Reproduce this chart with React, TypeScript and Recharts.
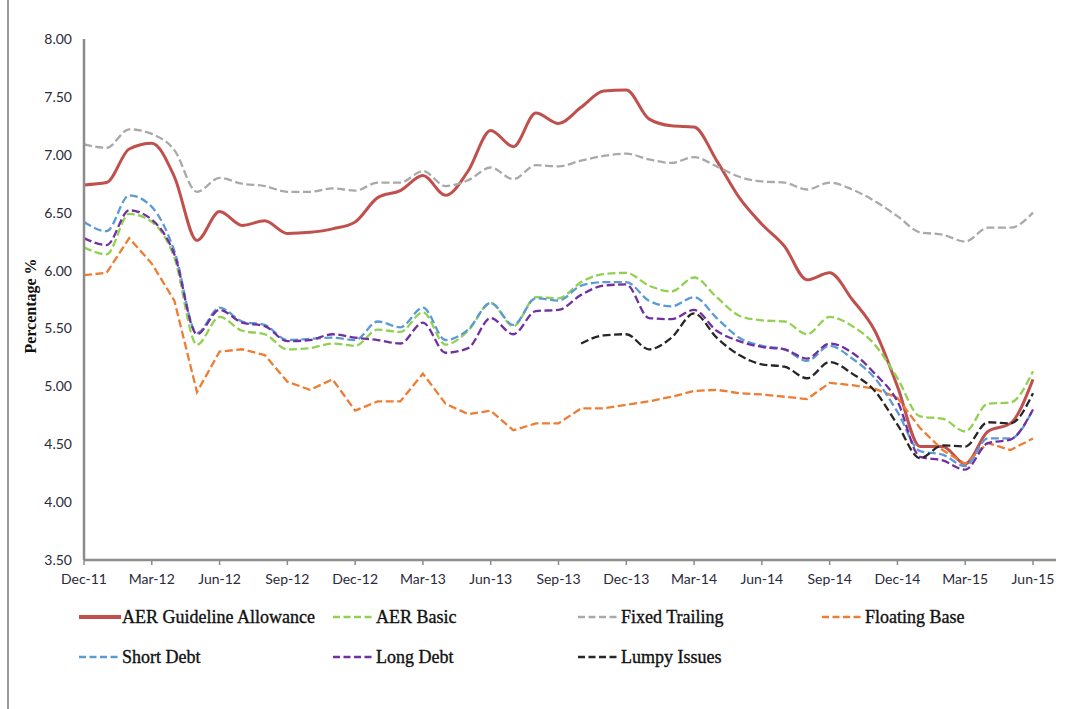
import React from 'react';
import { LineChart, Line, XAxis, YAxis } from 'recharts';

const months = ['Dec-11','Jan-12','Feb-12','Mar-12','Apr-12','May-12','Jun-12','Jul-12','Aug-12','Sep-12','Oct-12','Nov-12','Dec-12','Jan-13','Feb-13','Mar-13','Apr-13','May-13','Jun-13','Jul-13','Aug-13','Sep-13','Oct-13','Nov-13','Dec-13','Jan-14','Feb-14','Mar-14','Apr-14','May-14','Jun-14','Jul-14','Aug-14','Sep-14','Oct-14','Nov-14','Dec-14','Jan-15','Feb-15','Mar-15','Apr-15','May-15','Jun-15'];

const aerGuideline = [6.74,6.76,7.05,7.10,6.81,6.26,6.51,6.39,6.43,6.32,6.33,6.36,6.42,6.63,6.69,6.82,6.65,6.86,7.21,7.07,7.36,7.27,7.41,7.55,7.56,7.31,7.25,7.24,6.95,6.63,6.40,6.21,5.92,5.98,5.75,5.48,5.00,4.48,4.48,4.33,4.61,4.68,5.06];
const aerBasic = [6.20,6.14,6.49,6.42,6.11,5.36,5.60,5.48,5.45,5.32,5.33,5.37,5.35,5.49,5.47,5.64,5.36,5.48,5.72,5.52,5.77,5.76,5.90,5.97,5.98,5.87,5.82,5.94,5.77,5.61,5.57,5.56,5.45,5.60,5.52,5.36,5.07,4.74,4.72,4.61,4.85,4.86,5.13];
const fixedTrailing = [7.09,7.06,7.22,7.18,7.04,6.68,6.80,6.75,6.73,6.68,6.68,6.71,6.69,6.76,6.76,6.86,6.73,6.78,6.89,6.79,6.91,6.90,6.95,6.99,7.01,6.96,6.93,6.98,6.90,6.81,6.77,6.76,6.70,6.76,6.70,6.60,6.47,6.33,6.31,6.25,6.37,6.37,6.50];
const floatingBase = [5.96,5.98,6.28,6.06,5.74,4.95,5.30,5.32,5.27,5.04,4.97,5.06,4.79,4.87,4.87,5.11,4.85,4.76,4.79,4.62,4.68,4.68,4.81,4.81,4.84,4.87,4.91,4.96,4.97,4.94,4.93,4.91,4.89,5.03,5.01,4.98,4.90,4.64,4.45,4.33,4.51,4.45,4.55];
const shortDebt = [6.42,6.34,6.65,6.55,6.17,5.46,5.68,5.56,5.53,5.40,5.41,5.42,5.40,5.56,5.51,5.68,5.40,5.49,5.72,5.53,5.76,5.74,5.87,5.90,5.90,5.74,5.69,5.77,5.59,5.42,5.35,5.32,5.22,5.35,5.24,5.07,4.78,4.44,4.41,4.31,4.55,4.55,4.80];
const longDebt = [6.28,6.22,6.52,6.44,6.14,5.45,5.66,5.55,5.52,5.39,5.40,5.45,5.42,5.40,5.37,5.55,5.29,5.33,5.59,5.45,5.65,5.66,5.79,5.87,5.88,5.59,5.58,5.66,5.48,5.39,5.34,5.32,5.24,5.37,5.29,5.11,4.87,4.39,4.36,4.28,4.51,4.54,4.80];
const lumpyIssues = [null,null,null,null,null,null,null,null,null,null,null,null,null,null,null,null,null,null,null,null,null,null,5.37,5.44,5.45,5.32,5.42,5.63,5.42,5.27,5.19,5.17,5.07,5.21,5.11,4.96,4.67,4.38,4.49,4.48,4.69,4.68,4.94];

const yTicks = [3.5, 4.0, 4.5, 5.0, 5.5, 6.0, 6.5, 7.0, 7.5, 8.0];

const seriesNames = ['AER Guideline Allowance', 'AER Basic', 'Fixed Trailing', 'Floating Base', 'Short Debt', 'Long Debt', 'Lumpy Issues'];

const data = months.map((m, i) => ({
  month: m,
  aerGuideline: aerGuideline[i],
  aerBasic: aerBasic[i],
  fixedTrailing: fixedTrailing[i],
  floatingBase: floatingBase[i],
  shortDebt: shortDebt[i],
  longDebt: longDebt[i],
  lumpyIssues: lumpyIssues[i],
}));

const series = [
  { key: 'aerGuideline', name: seriesNames[0], color: '#C0504D', dash: undefined, width: 3, type: 'monotone' },
  { key: 'aerBasic', name: seriesNames[1], color: '#92D050', dash: '8 3.5', width: 2.3, type: 'monotone' },
  { key: 'fixedTrailing', name: seriesNames[2], color: '#A9A9A9', dash: '8 3.5', width: 2.3, type: 'monotone' },
  { key: 'floatingBase', name: seriesNames[3], color: '#EE7D31', dash: '8 3.5', width: 2.3, type: 'linear' },
  { key: 'shortDebt', name: seriesNames[4], color: '#5B9BD5', dash: '8 3.5', width: 2.3, type: 'monotone' },
  { key: 'longDebt', name: seriesNames[5], color: '#7030A0', dash: '8 3.5', width: 2.3, type: 'monotone' },
  { key: 'lumpyIssues', name: seriesNames[6], color: '#262626', dash: '8 3.5', width: 2.3, type: 'monotone' },
];

// legend grid positions (page px)
const legendCols = [79, 333, 578, 822];
const legendRows = [617, 657];

const tickFont = { fontFamily: 'Lato, sans-serif', fontSize: 14, fill: '#2a2a3a' };

export default function App() {
  return (
    <div style={{ position: 'absolute', left: 0, top: 0, width: 1078, height: 709, background: '#fff' }}>
      <div style={{ position: 'absolute', left: 7, top: 0, width: 1.5, height: 709, background: '#9a9a9a' }} />
      <div style={{ position: 'absolute', left: 0, top: 0 }}>
        <LineChart width={1078} height={709} data={data} margin={{ top: 39, right: 22, bottom: 119, left: 0 }}>
          <XAxis
            dataKey="month"
            interval={2}
            padding={{ left: 0, right: 23 }}
            axisLine={{ stroke: '#8C8C8C', strokeWidth: 2.5 }}
            tickLine={{ stroke: '#8C8C8C', strokeWidth: 1.5 }}
            tickSize={5}
            tickMargin={9}
            height={30}
            tick={tickFont}
          />
          <YAxis
            domain={[3.5, 8]}
            ticks={yTicks}
            type="number"
            width={84}
            allowDataOverflow
            tickFormatter={(v: number) => v.toFixed(2)}
            axisLine={{ stroke: '#8C8C8C', strokeWidth: 2.5 }}
            tickLine={false}
            tickSize={0}
            tickMargin={12}
            tick={tickFont}
            label={{
              content: () => (
                <text
                  x={36}
                  y={306}
                  transform="rotate(-90 36 306)"
                  textAnchor="middle"
                  style={{ fontFamily: '"Liberation Serif", "Times New Roman", serif', fontSize: 16, fontWeight: 'bold', fill: '#111' }}
                >
                  Percentage %
                </text>
              ),
            }}
          />
          {series.map((s) => (
            <Line
              key={s.key}
              dataKey={s.key}
              name={s.name}
              type={s.type as any}
              stroke={s.color}
              strokeWidth={s.width}
              strokeDasharray={s.dash}
              dot={false}
              activeDot={false}
              isAnimationActive={false}
              connectNulls={false}
            />
          ))}
        </LineChart>
      </div>
      {series.map((s, i) => {
        const col = legendCols[i % 4];
        const row = legendRows[Math.floor(i / 4)];
        return (
          <div key={s.key} style={{ position: 'absolute', left: col, top: row - 12, height: 24, display: 'flex', alignItems: 'center' }}>
            <svg width={42} height={24} style={{ display: 'block' }}>
              <line
                x1={0}
                y1={12}
                x2={42}
                y2={12}
                stroke={s.color}
                strokeWidth={s.dash ? 2.5 : 4}
                strokeDasharray={s.dash ? '7 3.5' : undefined}
              />
            </svg>
            <span style={{ fontFamily: '"Liberation Serif", "Times New Roman", serif', fontSize: 18, color: '#111', marginLeft: 1, whiteSpace: 'nowrap', WebkitTextStroke: '0.35px #111' }}>
              {s.name}
            </span>
          </div>
        );
      })}
    </div>
  );
}
